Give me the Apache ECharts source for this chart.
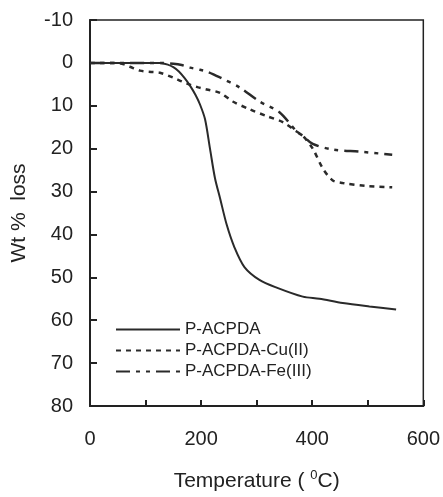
<!DOCTYPE html>
<html>
<head>
<meta charset="utf-8">
<script src="https://cdn.jsdelivr.net/npm/echarts@6/dist/echarts.min.js"></script>
<style>html,body{margin:0;padding:0;background:#fff;}#c{width:443px;height:497px;}</style>
</head>
<body>
<div id="c"></div>
<script>
var seriesNames = ['P-ACPDA', 'P-ACPDA-Cu(II)', 'P-ACPDA-Fe(III)'];
var xTicks = [0, 200, 400, 600];
var yTicks = [-10, 0, 10, 20, 30, 40, 50, 60, 70, 80];

var acpdaT = [0, 50, 100, 126, 140, 150, 160, 170, 180, 190, 198, 207, 216, 225, 234, 246, 260, 278, 305, 336, 383, 413, 455, 503, 551];
var acpdaW = [0, 0, 0, 0, 0.4, 1, 2, 3.5, 5.3, 7.5, 9.7, 13.1, 20, 26.9, 31.5, 37.7, 43, 47.6, 50.6, 52.4, 54.5, 55, 56, 56.8, 57.5];

var cuT = [0, 50, 60, 72, 90, 110, 126, 149, 165, 180, 195, 210, 234, 257, 287, 318, 347, 372, 383, 401, 419, 437, 455, 497, 544];
var cuW = [0, 0, 0.3, 0.9, 1.8, 2.1, 2.3, 3.4, 4.3, 5.1, 5.7, 6.2, 7, 9, 10.8, 12.4, 13.8, 16, 17, 20, 24.6, 27.4, 28, 28.7, 29];

var feT = [0, 100, 126, 150, 165, 180, 198, 212, 234, 269, 305, 341, 372, 383, 401, 437, 485, 544];
var feW = [0, 0, 0, 0.2, 0.5, 1.1, 1.6, 2.1, 3.4, 5.7, 9.0, 11.5, 16, 17, 18.9, 20.2, 20.7, 21.4];

function pairs(t, w) { return t.map(function (v, i) { return [v, w[i]]; }); }

var chart = echarts.init(document.getElementById('c'), null, { renderer: 'canvas' });
var font = 'Liberation Sans, Arial, sans-serif';
var lineCol = '#2a2a2a';

chart.setOption({
  backgroundColor: '#fff',
  animation: false,
  grid: { left: 90, right: 19, top: 20, bottom: 86, show: true, borderColor: '#222', borderWidth: 1.5, backgroundColor: 'transparent' },
  legend: {
    orient: 'vertical', left: 110, top: 316, itemWidth: 64, itemHeight: 14, itemGap: 4,
    itemStyle: { opacity: 0 },
    textStyle: { fontFamily: font, fontSize: 17, color: '#222' },
    data: seriesNames
  },
  xAxis: {
    type: 'value', min: 0, max: 600, interval: 100,
    axisLine: { onZero: false, lineStyle: { color: '#222', width: 2 } },
    axisTick: { inside: true, length: 6, lineStyle: { color: '#222', width: 2 } },
    splitLine: { show: false },
    axisLabel: {
      fontFamily: font, fontSize: 20, color: '#222', margin: 23,
      formatter: function (v) { return xTicks.indexOf(v) >= 0 ? String(v) : ''; }
    },
    name: 'Temperature ( {sup|0}C)', nameLocation: 'middle', nameGap: 63,
    nameTextStyle: {
      fontFamily: font, fontSize: 21, color: '#222',
      rich: { sup: { fontFamily: font, fontSize: 13, color: '#222', padding: [0, 0, 12, 0] } }
    }
  },
  yAxis: {
    type: 'value', inverse: true, min: -10, max: 80, interval: 10,
    axisLine: { show: true, onZero: false, lineStyle: { color: '#222', width: 2 } },
    axisTick: { show: true, inside: true, length: 7, lineStyle: { color: '#222', width: 2 } },
    splitLine: { show: false },
    axisLabel: {
      fontFamily: font, fontSize: 20, color: '#222', margin: 17,
      formatter: function (v) { return yTicks.indexOf(v) >= 0 ? String(v) : ''; }
    },
    name: 'Wt %  loss', nameLocation: 'middle', nameGap: 60, nameRotate: 90,
    nameTextStyle: { fontFamily: font, fontSize: 21, color: '#222' }
  },
  series: [
    {
      name: seriesNames[0], type: 'line', data: pairs(acpdaT, acpdaW), showSymbol: false, symbol: 'none',
      smooth: 0.3,
      lineStyle: { color: lineCol, width: 2, type: 'solid' }, itemStyle: { color: lineCol }
    },
    {
      name: seriesNames[1], type: 'line', data: pairs(cuT, cuW), showSymbol: false, symbol: 'none',
      smooth: 0.3,
      lineStyle: { color: lineCol, width: 2.5, type: [5, 5] }, itemStyle: { color: lineCol }
    },
    {
      name: seriesNames[2], type: 'line', data: pairs(feT, feW), showSymbol: false, symbol: 'none',
      smooth: 0.3,
      lineStyle: { color: lineCol, width: 2.5, type: [14, 6, 4, 6, 4, 6] }, itemStyle: { color: lineCol }
    }
  ]
});
</script>
</body>
</html>
